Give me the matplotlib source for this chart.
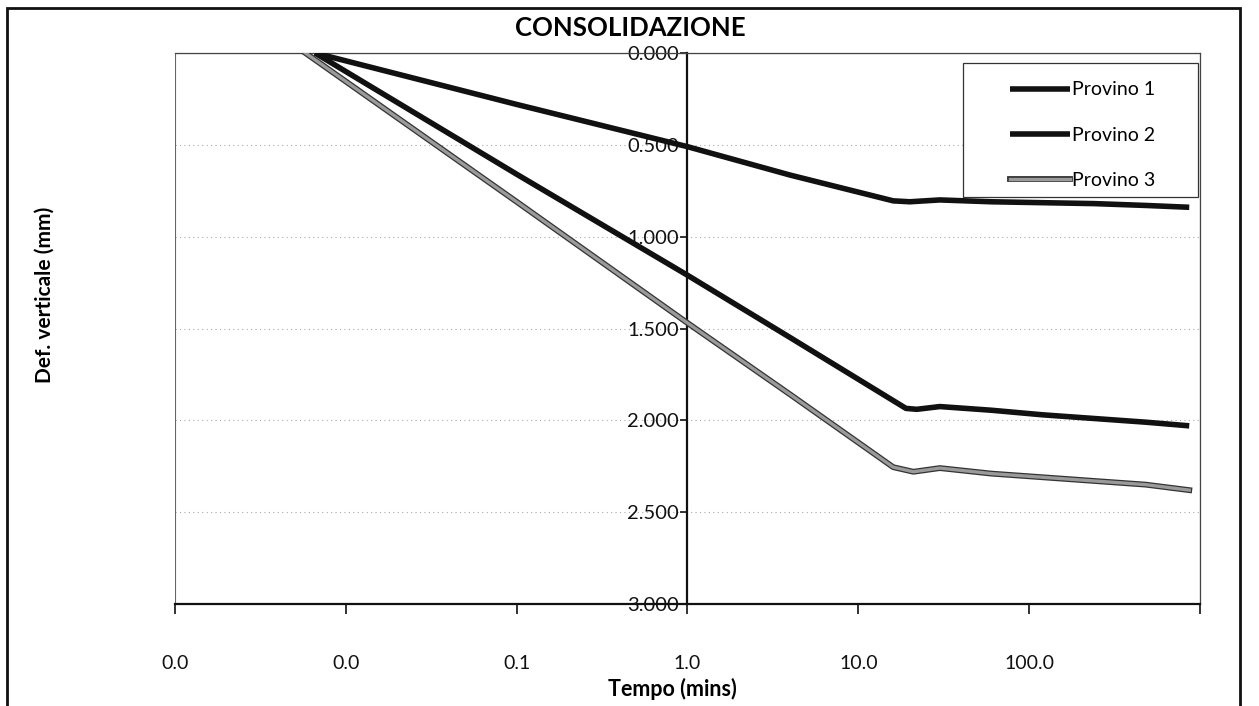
#! /usr/bin/env python3

import matplotlib
matplotlib.use("Agg")
import matplotlib.pyplot as plt
import matplotlib.patheffects as pe
from matplotlib.patches import Rectangle
from matplotlib.ticker import FixedLocator, FixedFormatter, NullLocator

# tempo (min) e cedimento (mm)
tempo_1 = [0.0066, 0.1, 1.0, 4.0, 16.0, 20.0, 30.0, 60.0, 120.0, 240.0, 480.0, 865.0]
def_1 = [0.000, 0.280, 0.510, 0.665, 0.805, 0.810, 0.800, 0.810, 0.815, 0.820, 0.830, 0.840]

tempo_2 = [0.0066, 0.1, 1.0, 4.0, 19.0, 22.0, 30.0, 60.0, 120.0, 240.0, 480.0, 865.0]
def_2 = [0.000, 0.660, 1.210, 1.550, 1.935, 1.940, 1.925, 1.945, 1.970, 1.990, 2.010, 2.030]

tempo_3 = [0.0058, 0.1, 1.0, 4.0, 16.0, 21.0, 30.0, 60.0, 120.0, 240.0, 480.0, 865.0]
def_3 = [0.000, 0.810, 1.470, 1.860, 2.255, 2.280, 2.260, 2.290, 2.310, 2.330, 2.350, 2.380]

x_ticks = [0.001, 0.01, 0.1, 1.0, 10.0, 100.0, 1000.0]
x_labels = ["0.0", "0.0", "0.1", "1.0", "10.0", "100.0", ""]
y_ticks = [0.0, 0.5, 1.0, 1.5, 2.0, 2.5, 3.0]

plt.rcParams['font.family'] = ['Lato', 'DejaVu Sans']

fig = plt.figure(figsize=(12.59, 7.06), dpi=100)
ax = fig.add_axes([175 / 1259, 1 - 604 / 706, 1025 / 1259, 551 / 706])

ax.set_xscale('log')
ax.set_xlim(0.001, 1000)
ax.set_ylim(3.0, 0.0)

# griglia orizzontale tratteggiata
for v in y_ticks[1:-1]:
    ax.axhline(v, color='#aaaaaa', lw=0.8, ls=(0, (1, 3)), zorder=0)

ax.plot(tempo_1, def_1, color='#111111', lw=4, label='Provino 1',
        solid_capstyle='butt', zorder=3)
ax.plot(tempo_2, def_2, color='#111111', lw=4, label='Provino 2',
        solid_capstyle='butt', zorder=3)
ax.plot(tempo_3, def_3, color='#9a9a9a', lw=2.4, label='Provino 3', zorder=3,
        path_effects=[pe.Stroke(linewidth=4.2, foreground='#333333'), pe.Normal()])

# asse y posizionato a t = 1 min
ax.spines['left'].set_position(('data', 1.0))
ax.spines['left'].set_linewidth(1.6)
ax.spines['left'].set_color('#111111')
ax.spines['bottom'].set_linewidth(1.6)
ax.spines['bottom'].set_color('#111111')
ax.spines['top'].set_color('#444444')
ax.spines['top'].set_linewidth(0.9)
ax.spines['right'].set_color('#444444')
ax.spines['right'].set_linewidth(0.9)
ax.add_patch(Rectangle((0, 0), 1, 1, transform=ax.transAxes, fill=False,
                       ec='#666666', lw=0.8, zorder=0))

ax.xaxis.set_major_locator(FixedLocator(x_ticks))
ax.xaxis.set_major_formatter(FixedFormatter(x_labels))
ax.xaxis.set_minor_locator(NullLocator())
ax.tick_params(axis='x', direction='out', length=7, width=1.2, pad=30,
               labelsize=14, colors='#111111')

ax.yaxis.set_major_locator(FixedLocator(y_ticks))
ax.set_yticklabels(["%.3f" % v for v in y_ticks])
ax.tick_params(axis='y', direction='out', length=5, width=1.2, pad=1,
               labelsize=14.5, colors='#111111')
for lab in ax.get_yticklabels():
    lab.set_zorder(5)

# legenda con riquadro largo come in Excel
ax.add_patch(Rectangle((963 / 1259, 1 - 197 / 706), 235 / 1259, 134 / 706,
                       transform=fig.transFigure, fc='white', ec='#333333',
                       lw=0.9, zorder=4))
leg = ax.legend(loc='upper right', bbox_to_anchor=(0.962, 0.959),
                fontsize=14, frameon=False, handlelength=3.1,
                handletextpad=0.1, labelspacing=1.45, borderpad=0.3,
                borderaxespad=0.0)
leg.set_zorder(6)

fig.text(630 / 1259, 1 - 28 / 706, "CONSOLIDAZIONE", ha='center', va='center',
         fontsize=18.5, fontweight='bold')
fig.text(45 / 1259, 1 - 295 / 706, "Def. verticale (mm)", ha='center',
         va='center', rotation=90, fontsize=15, fontweight='bold')
fig.text(672 / 1259, 1 - 689 / 706, "Tempo (mins)", ha='center', va='center',
         fontsize=15.5, fontweight='bold')

# cornice esterna
fig.patches.append(Rectangle((7 / 1259, -0.05), 1233 / 1259, 1.05 - 8 / 706,
                             transform=fig.transFigure, fill=False,
                             ec='#111111', lw=2.0))

fig.savefig("out.png", dpi=100)
